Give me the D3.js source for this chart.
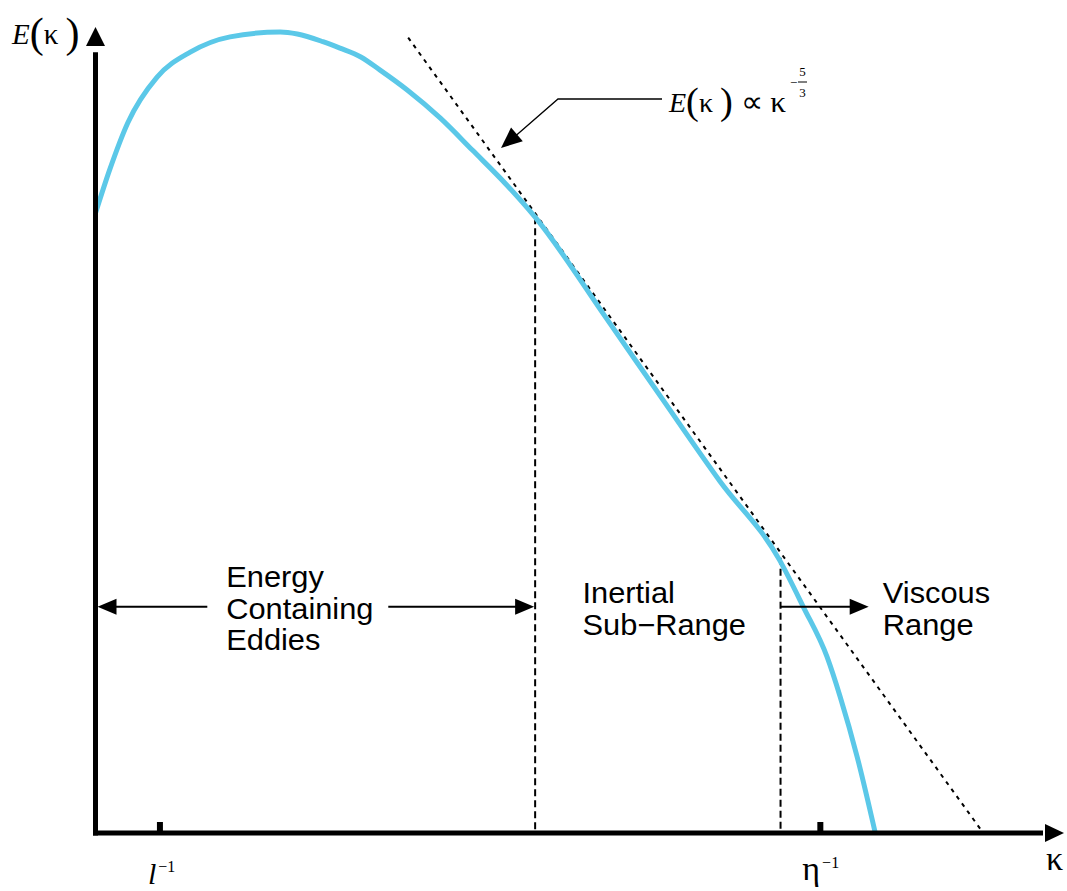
<!DOCTYPE html>
<html>
<head>
<meta charset="utf-8">
<script src="https://cdn.jsdelivr.net/npm/d3@7"></script>
<style>
  body { margin: 0; background: #fff; }
  .sans { font-family: "Liberation Sans", Arial, sans-serif; font-size: 28px; fill: #000; }
  .serif { font-family: "Liberation Serif", "Times New Roman", serif; fill: #000; }
</style>
</head>
<body>
<svg id="chart" width="1067" height="891"></svg>
<script>
// energy spectrum (arbitrary units 0..100 on both axes)
var curveK = [0.0, 1.5, 3.4, 6.5, 10.0, 14.2, 19.5, 21.3, 24.0, 25.8, 28.0, 30.0, 32.9, 36.4, 39.8, 43.4, 46.4, 54.0, 59.6, 65.9, 72.2, 74.7, 77.2, 78.6, 80.4, 82.3]
var curveE = [77.0, 82.4, 88.2, 93.9, 97.0, 98.9, 99.5, 99.25, 98.3, 97.5, 96.4, 94.8, 92.3, 88.8, 84.8, 80.5, 76.5, 63.8, 54.3, 43.7, 33.9, 28.1, 21.9, 16.9, 9.4, 0.0]

// the -5/3 reference line (two ends)
var slopeK = [33.0, 93.7]
var slopeE = [98.8, 0.0]

// borders between the ranges
var boundaryK = [46.4, 72.3]
var boundaryE = [76.5, 34.2]

// ticks on the k axis
var tickK = [6.8, 76.5]
var tickNames = ['l', 'η']

// range labels
var rangeY = 28.1
var rangeNames = [['Energy', 'Containing', 'Eddies'], ['Inertial', 'Sub\u2212Range'], ['Viscous', 'Range']]
var rangeTextK = [13.8, 51.4, 83.1]

var svg = d3.select('#chart')

var x = d3.scaleLinear().domain([0, 100]).range([95.5, 1043])
var y = d3.scaleLinear().domain([0, 100]).range([833, 28])

function arrowHead(tx, ty, dx, dy, len, half) {
  // filled triangle with tip at (tx,ty), pointing along (dx,dy)
  var n = Math.sqrt(dx * dx + dy * dy); dx /= n; dy /= n
  var bx = tx - dx * len, by = ty - dy * len
  svg.append('path')
    .attr('d', 'M' + tx + ',' + ty + 'L' + (bx - dy * half) + ',' + (by + dx * half) +
      'L' + (bx + dy * half) + ',' + (by - dx * half) + 'Z')
    .attr('fill', '#000')
}

// boundaries (dashed verticals)
boundaryK.forEach(function (k, i) {
  svg.append('line')
    .attr('x1', x(k)).attr('x2', x(k))
    .attr('y1', y(boundaryE[i])).attr('y2', y(0))
    .attr('stroke', '#000').attr('stroke-width', 2)
    .attr('stroke-dasharray', '7,4')
})

// -5/3 line
svg.append('line')
  .attr('x1', x(slopeK[0])).attr('y1', y(slopeE[0]))
  .attr('x2', x(slopeK[1])).attr('y2', y(slopeE[1]))
  .attr('stroke', '#000').attr('stroke-width', 2)
  .attr('stroke-dasharray', '4,5')

// spectrum
var pts = curveK.map(function (k, i) { return [k, curveE[i]] })
svg.append('path')
  .datum(pts)
  .attr('d', d3.line().curve(d3.curveMonotoneX)
    .x(function (d) { return x(d[0]) }).y(function (d) { return y(d[1]) }))
  .attr('fill', 'none')
  .attr('stroke', '#5BC8E8')
  .attr('stroke-width', 5)
  .attr('stroke-linejoin', 'round')

// axes
svg.append('line')
  .attr('x1', x(0)).attr('x2', x(0)).attr('y1', y(0) + 2.5).attr('y2', y(97))
  .attr('stroke', '#000').attr('stroke-width', 5)
svg.append('line')
  .attr('x1', x(0) - 2.5).attr('x2', x(100)).attr('y1', y(0)).attr('y2', y(0))
  .attr('stroke', '#000').attr('stroke-width', 5)
arrowHead(x(0), y(100) - 1, 0, -1, 19, 9.5)
arrowHead(x(100) + 21, y(0), 1, 0, 19, 9)

// ticks
svg.selectAll('.tick').data(tickK).enter().append('line')
  .attr('class', 'tick')
  .attr('x1', function (d) { return x(d) }).attr('x2', function (d) { return x(d) })
  .attr('y1', y(0)).attr('y2', y(0) - 11)
  .attr('stroke', '#000').attr('stroke-width', 6)

var t1 = svg.append('text').attr('class', 'serif').attr('x', x(tickK[0]) - 12).attr('y', 884)
t1.append('tspan').attr('font-style', 'italic').attr('font-size', 30).text(tickNames[0])
t1.append('tspan').attr('font-size', 16).attr('dx', 2).attr('dy', -12).text('\u22121')

var t2 = svg.append('text').attr('class', 'serif').attr('x', x(tickK[1]) - 18).attr('y', 880)
t2.append('tspan').attr('font-size', 34).text(tickNames[1])
t2.append('tspan').attr('font-size', 16).attr('dx', 2).attr('dy', -12).text('\u22121')

// axis titles
svg.append('text').attr('class', 'serif').attr('x', 1046).attr('y', 870)
  .attr('font-size', 34).text('κ')

var yt = svg.append('text').attr('class', 'serif').attr('x', 12).attr('y', 44)
yt.append('tspan').attr('font-style', 'italic').attr('font-size', 29).text('E')
yt.append('tspan').attr('font-size', 42).attr('dy', 3).text('(')
yt.append('tspan').attr('font-size', 29).attr('dy', -3).text('κ ')
yt.append('tspan').attr('font-size', 42).attr('dy', 3).text(')')

// annotation
var an = svg.append('text').attr('class', 'serif').attr('x', 669).attr('y', 112)
  .attr('textLength', 117).attr('lengthAdjust', 'spacingAndGlyphs')
an.append('tspan').attr('font-style', 'italic').attr('font-size', 27).text('E')
an.append('tspan').attr('font-size', 37).attr('dy', 2).text('(')
an.append('tspan').attr('font-size', 27).attr('dy', -2).text('κ ')
an.append('tspan').attr('font-size', 37).attr('dy', 2).text(')')
an.append('tspan').attr('font-size', 30).attr('dy', -2).text(' ∝ κ')
svg.append('text').attr('class', 'serif').attr('x', 790).attr('y', 87).attr('font-size', 13).text('\u2212')
svg.append('text').attr('class', 'serif').attr('x', 802.5).attr('y', 76).attr('font-size', 13)
  .attr('text-anchor', 'middle').text('5')
svg.append('line').attr('x1', 798).attr('x2', 807).attr('y1', 82).attr('y2', 82)
  .attr('stroke', '#000').attr('stroke-width', 1)
svg.append('text').attr('class', 'serif').attr('x', 802.5).attr('y', 97).attr('font-size', 13)
  .attr('text-anchor', 'middle').text('3')

svg.append('polyline')
  .attr('points', '662,99 558,99 512,139')
  .attr('fill', 'none').attr('stroke', '#000').attr('stroke-width', 1.3)
arrowHead(501, 148, 501 - 558, 148 - 99, 21, 9)

// range arrows
var ry = y(rangeY)
svg.append('line').attr('x1', x(0) + 12).attr('x2', x(11.8)).attr('y1', ry).attr('y2', ry)
  .attr('stroke', '#000').attr('stroke-width', 2)
arrowHead(x(0) + 2, ry, -1, 0, 19, 8)
svg.append('line').attr('x1', x(30.9)).attr('x2', x(boundaryK[0]) - 10).attr('y1', ry).attr('y2', ry)
  .attr('stroke', '#000').attr('stroke-width', 2)
arrowHead(x(boundaryK[0]) - 1, ry, 1, 0, 19, 8)
svg.append('line').attr('x1', x(boundaryK[1])).attr('x2', x(81.6) - 10).attr('y1', ry).attr('y2', ry)
  .attr('stroke', '#000').attr('stroke-width', 2)
arrowHead(x(81.6), ry, 1, 0, 19, 8)

// range labels, one line per text, slightly widened like the source font
rangeNames.forEach(function (lines, i) {
  var first = lines.length == 3 ? 587 : 603
  lines.forEach(function (s, j) {
    svg.append('text').attr('class', 'sans')
      .attr('transform', 'translate(' + x(rangeTextK[i]) + ',' + (first + j * 31.5) + ') scale(1.1,1.05)')
      .text(s)
  })
})
</script>
</body>
</html>
